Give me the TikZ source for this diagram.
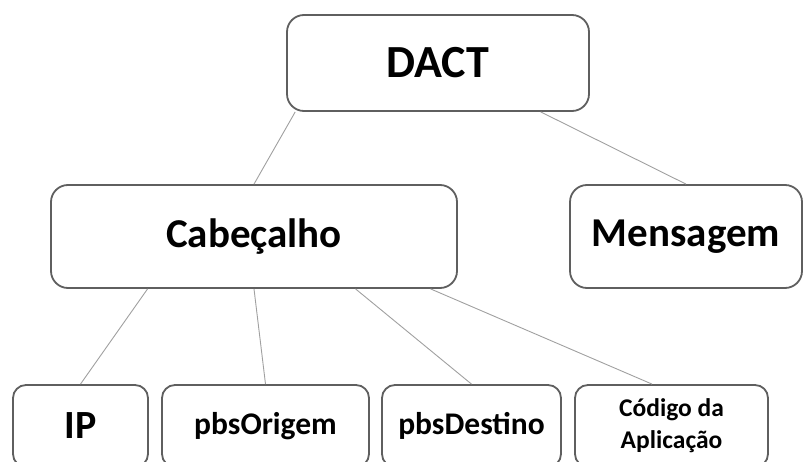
\documentclass[tikz,border=0pt]{standalone}
\usepackage{fontspec}
\setmainfont{Carlito}
\usepackage{xcolor}
\definecolor{boxline}{HTML}{5F5F5F}
\definecolor{linkline}{HTML}{A0A0A0}
\definecolor{textdark}{HTML}{000000}
\usepackage{tikz}
\usetikzlibrary{calc}

\tikzset{
  caixa/.style={draw=boxline, line width=1.8pt, rounded corners=17pt, fill=white,
    inner sep=0pt, text=textdark, font=\bfseries},
  ligacao/.style={draw=linkline, line width=0.9pt}
}

\begin{document}
\begin{tikzpicture}[x=1pt, y=-1pt]
        \useasboundingbox (0,0) rectangle (803,462);
        \clip (0,0) rectangle (803,462);
        % Root
        \node[caixa, minimum width=302pt, minimum height=96pt, font=\bfseries\fontsize{46}{55}\selectfont] (dact) at (438,63) {DACT};
        % Second level
        \node[caixa, minimum width=406pt, minimum height=103pt, font=\bfseries\fontsize{41}{49}\selectfont] (cab) at (254,236.5) {Cabeçalho};
        \node[caixa, minimum width=232pt, minimum height=103pt, font=\bfseries\fontsize{41}{49}\selectfont] (msg) at (686,236.5) {Mensagem};
        % Header fields (cut off at the bottom)
        \node[caixa, rounded corners=13pt, minimum width=135pt, minimum height=82pt, font=\bfseries\fontsize{40}{48}\selectfont] (ip) at (80.5,426) {IP};
        \node[caixa, rounded corners=13pt, minimum width=207pt, minimum height=82pt, font=\bfseries\fontsize{31.5}{38}\selectfont] (origem) at (265.5,426) {pbsOrigem};
        \node[caixa, rounded corners=13pt, minimum width=179pt, minimum height=82pt, font=\bfseries\fontsize{31.5}{38}\selectfont] (destino) at (471.5,426) {pbsDestino};
        \node[caixa, rounded corners=13pt, minimum width=193pt, minimum height=82pt, align=center, font=\bfseries\fontsize{25.5}{32}\selectfont] (codigo) at (671.5,426) {Código da\\Aplicação};
        % Links
        \draw[ligacao] ($(dact.south west)!0.03!(dact.south east)$) -- (cab.north);
        \draw[ligacao] ($(dact.south west)!0.838!(dact.south east)$) -- (msg.north);
        \draw[ligacao] ($(cab.south west)!0.239!(cab.south east)$) -- (ip.north);
        \draw[ligacao] (cab.south) -- (origem.north);
        \draw[ligacao] ($(cab.south west)!0.749!(cab.south east)$) -- (destino.north);
        \draw[ligacao] ($(cab.south west)!0.933!(cab.south east)$) -- ($(codigo.north west)!0.4!(codigo.north east)$);
      \end{tikzpicture}
\end{document}
